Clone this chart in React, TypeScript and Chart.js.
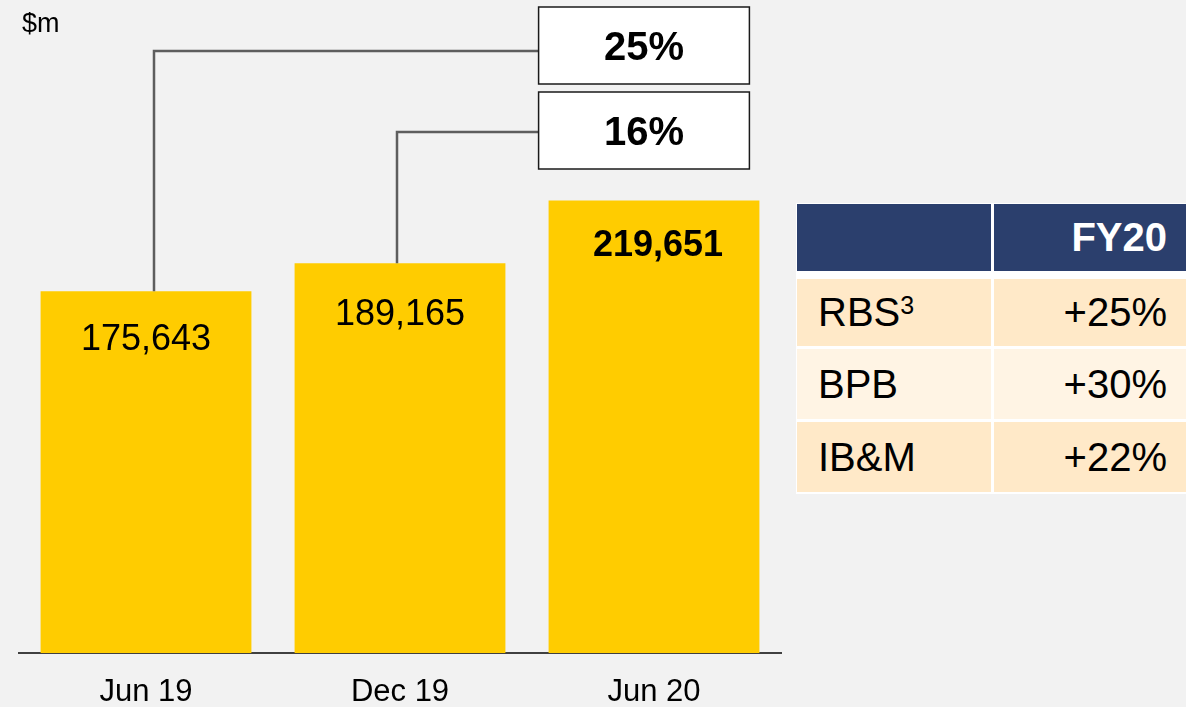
import React, { useEffect, useRef } from "react";
import { Chart, registerables } from "chart.js";

Chart.register(...registerables);

// ---- data ----
const categories: string[] = ["Jun 19", "Dec 19", "Jun 20"];
const values: number[] = [175643, 189165, 219651];
const valueLabels: string[] = ["175,643", "189,165", "219,651"];
const growthLabels: string[] = ["25%", "16%"];
const growthFromIndex: number[] = [0, 1];
const unitLabel = "$m";

const tableHeader: string[] = ["", "FY20"];
const tableSegments: string[] = ["RBS", "BPB", "IB&M"];
const tableSuperscripts: string[] = ["3", "", ""];
const tableGrowth: string[] = ["+25%", "+30%", "+22%"];

// ---- styles ----
const FONT = '"Liberation Sans", Arial, Helvetica, sans-serif';
const BAR_COLOR = "#FFCC00";
const BG = "#F2F2F2";
const NAVY = "#2B3F6D";
const ROW_COLORS = ["#FFE9C8", "#FFF4E4", "#FFE9C8"];
const LABEL_OFFSETS = [49, 52, 46];
const connectorStyle = [
  { dx: 8, lineY: 51, boxTop: 7 },
  { dx: -3, lineY: 132, boxTop: 92 },
];
const BOX_H = 77;

const overlayPlugin = {
  id: "overlay",
  afterDatasetsDraw(chart: any) {
    const ctx = chart.ctx as CanvasRenderingContext2D;
    const meta = chart.getDatasetMeta(0);
    const bars = meta.data as any[];
    ctx.save();

    // unit label
    ctx.fillStyle = "#000";
    ctx.font = `27px ${FONT}`;
    ctx.textAlign = "left";
    ctx.textBaseline = "alphabetic";
    ctx.fillText(unitLabel, 22, 32);

    // value labels
    bars.forEach((bar, i) => {
      const last = i === bars.length - 1;
      ctx.font = `${last ? "bold " : ""}36px ${FONT}`;
      ctx.textAlign = "center";
      ctx.textBaseline = "middle";
      ctx.fillStyle = "#000";
      ctx.fillText(valueLabels[i], bar.x + (last ? 4 : 0), bar.y + LABEL_OFFSETS[i]);
    });

    // connectors and growth boxes
    const target = bars[bars.length - 1];
    const boxLeft = target.x - target.width / 2 - 10;
    const boxW = target.width;
    growthLabels.forEach((lbl, k) => {
      const st = connectorStyle[k];
      const from = bars[growthFromIndex[k]];
      const vx = Math.round(from.x + st.dx);
      ctx.strokeStyle = "#5E5E5E";
      ctx.lineWidth = 2.5;
      ctx.beginPath();
      ctx.moveTo(vx, from.y);
      ctx.lineTo(vx, st.lineY);
      ctx.lineTo(boxLeft, st.lineY);
      ctx.stroke();

      ctx.fillStyle = "#FFFFFF";
      ctx.fillRect(boxLeft, st.boxTop, boxW, BOX_H);
      ctx.strokeStyle = "#1A1A1A";
      ctx.lineWidth = 1.5;
      ctx.strokeRect(boxLeft, st.boxTop, boxW, BOX_H);

      ctx.fillStyle = "#000";
      ctx.font = `bold 40px ${FONT}`;
      ctx.textAlign = "center";
      ctx.textBaseline = "middle";
      ctx.fillText(lbl, boxLeft + boxW / 2, st.boxTop + BOX_H / 2 + 3);
    });

    ctx.restore();
  },
};

export default function App() {
  const canvasRef = useRef<HTMLCanvasElement | null>(null);

  useEffect(() => {
    if (!canvasRef.current) return;
    const chart = new Chart(canvasRef.current, {
      type: "bar",
      data: {
        labels: categories,
        datasets: [
          {
            data: values,
            backgroundColor: BAR_COLOR,
            borderWidth: 0,
            barPercentage: 1,
            categoryPercentage: 0.83,
          },
        ],
      },
      options: {
        animation: false,
        responsive: false,
        devicePixelRatio: 1,
        layout: { padding: { left: 19, right: 405, top: 53, bottom: 0 } },
        plugins: {
          legend: { display: false },
          tooltip: { enabled: false },
        },
        scales: {
          x: {
            grid: { display: false, drawTicks: false },
            border: { display: true, color: "#404040", width: 2 },
            ticks: {
              color: "#000",
              font: { family: FONT, size: 31 },
              padding: 21,
            },
            afterFit: (scale: any) => {
              scale.height = 54;
            },
          },
          y: { display: false, min: 0, max: 291300 },
        },
      },
      plugins: [overlayPlugin],
    } as any);
    return () => chart.destroy();
  }, []);

  const cellBase: React.CSSProperties = {
    display: "flex",
    alignItems: "center",
    boxSizing: "border-box",
    fontFamily: FONT,
    fontSize: 40,
    color: "#000",
  };

  return (
    <div
      style={{
        position: "fixed",
        left: 0,
        top: 0,
        width: 1186,
        height: 707,
        background: BG,
        overflow: "hidden",
      }}
    >
      <canvas
        ref={canvasRef}
        width={1186}
        height={707}
        style={{ position: "absolute", left: 0, top: 0, width: 1186, height: 707 }}
      />
      <div
        style={{
          position: "absolute",
          left: 796,
          top: 203,
          width: 400,
          height: 291,
          background: "#FFFFFF",
        }}
      >
        {/* header */}
        <div style={{ position: "absolute", left: 1, top: 1, width: 194, height: 67, background: NAVY }}>
          {tableHeader[0]}
        </div>
        <div
          style={{
            ...cellBase,
            position: "absolute",
            left: 198,
            top: 1,
            width: 192,
            height: 67,
            background: NAVY,
            color: "#FFFFFF",
            fontWeight: "bold",
            justifyContent: "flex-end",
            paddingRight: 19,
          }}
        >
          {tableHeader[1]}
        </div>
        {tableSegments.map((seg, i) => {
          const tops = [76, 146, 219];
          const heights = [67, 70, 70];
          return (
            <React.Fragment key={seg}>
              <div
                style={{
                  ...cellBase,
                  position: "absolute",
                  left: 1,
                  top: tops[i],
                  width: 194,
                  height: heights[i],
                  background: ROW_COLORS[i],
                  paddingLeft: 21,
                }}
              >
                <span>{seg}</span>
                {tableSuperscripts[i] ? (
                  <span style={{ fontSize: 25, alignSelf: "center", marginTop: -14 }}>
                    {tableSuperscripts[i]}
                  </span>
                ) : null}
              </div>
              <div
                style={{
                  ...cellBase,
                  position: "absolute",
                  left: 198,
                  top: tops[i],
                  width: 192,
                  height: heights[i],
                  background: ROW_COLORS[i],
                  justifyContent: "flex-end",
                  paddingRight: 19,
                }}
              >
                {tableGrowth[i]}
              </div>
            </React.Fragment>
          );
        })}
      </div>
    </div>
  );
}
